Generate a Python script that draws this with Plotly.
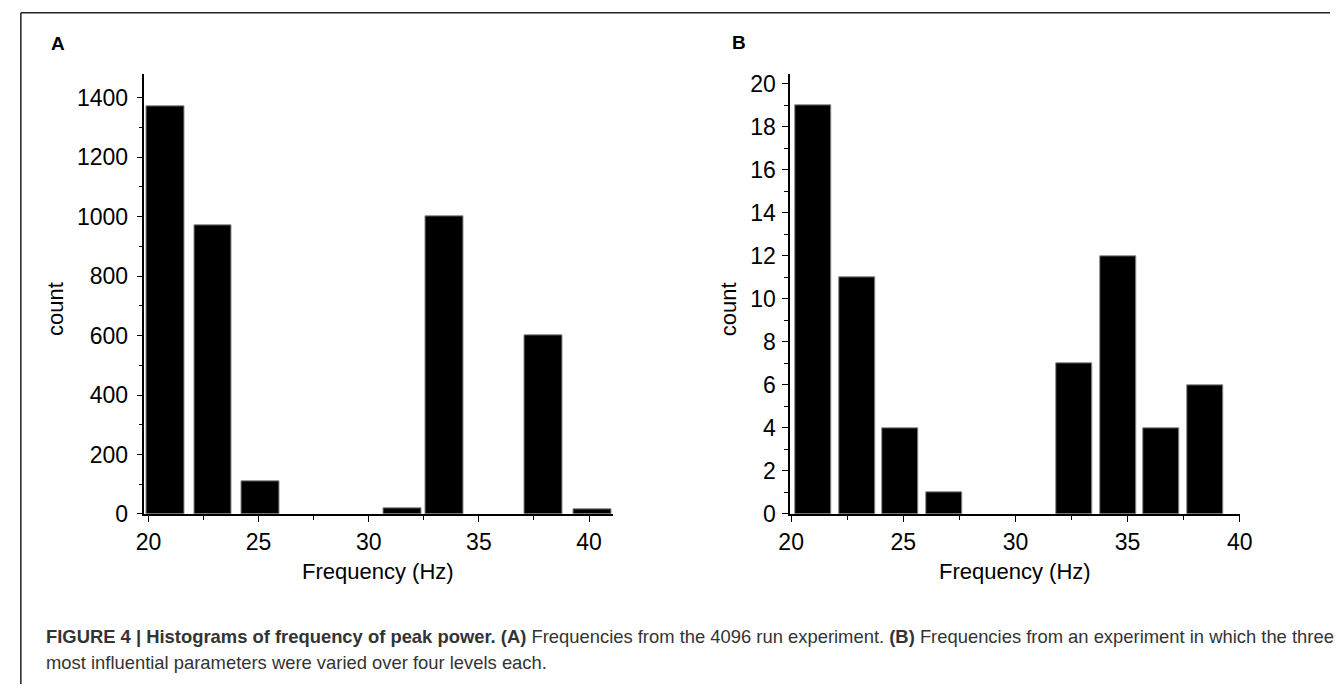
import plotly.graph_objects as go

W, H = 1343, 697

# Panel A: 4096-run experiment (bin centres in Hz, counts)
freq_a = [20.78, 22.93, 25.08, 31.55, 33.45, 37.95, 40.15]
count_a = [1370, 970, 110, 19, 1003, 600, 15]

# Panel B: four-level experiment on three parameters
freq_b = [21.0, 22.94, 24.88, 26.82, 32.64, 34.58, 36.52, 38.46]
count_b = [19, 11, 4, 1, 7, 12, 4, 6]

panel_labels = ["A", "B"]
x_title = "Frequency (Hz)"
y_title = "count"
caption_1 = ("<b>FIGURE 4 | Histograms of frequency of peak power. (A)</b> Frequencies from the 4096 run "
             "experiment. <b>(B)</b> Frequencies from an experiment in which the three")
caption_2 = "most influential parameters were varied over four levels each."


def px(x):
    return x / W


def py(y):
    return 1 - y / H


FONT = "Liberation Sans, Arial, sans-serif"
bar_style = dict(color="black", line=dict(color="#8a8a8a", width=1))

fig = go.Figure()
fig.add_trace(go.Bar(x=freq_a, y=count_a, width=1.72, marker=bar_style,
                     xaxis="x", yaxis="y", showlegend=False))
fig.add_trace(go.Bar(x=freq_b, y=count_b, width=1.6, marker=bar_style,
                     xaxis="x2", yaxis="y2", showlegend=False))

axis_common = dict(
    showline=True, linecolor="black", linewidth=1.6, mirror=False,
    showgrid=False, zeroline=False,
    ticks="outside", ticklen=6, tickwidth=1.4, tickcolor="black",
    tickfont=dict(family=FONT, size=23, color="black"),
)
minor_common = dict(ticks="outside", ticklen=4, tickwidth=1.2, tickcolor="black", showgrid=False)

y_dom = [py(523), py(73)]

fig.update_layout(
    width=W, height=H,
    margin=dict(l=0, r=0, t=0, b=0),
    paper_bgcolor="white", plot_bgcolor="white",
    bargap=0,
    xaxis=dict(domain=[px(135), px(612)], range=[19.82, 41.07], anchor="y",
               tickmode="linear", tick0=20, dtick=5, ticklabelstandoff=1,
               minor=dict(dtick=2.5, **minor_common), **axis_common),
    yaxis=dict(domain=y_dom, range=[0, 1479], anchor="x",
               tickmode="linear", tick0=0, dtick=200, ticklabelstandoff=4,
               minor=dict(dtick=100, **minor_common), **axis_common),
    xaxis2=dict(domain=[px(793), px(1251)], range=[19.96, 40.0], anchor="y2",
                tickmode="linear", tick0=20, dtick=5, ticklabelstandoff=1,
                minor=dict(dtick=2.5, **minor_common), **axis_common),
    yaxis2=dict(domain=y_dom, range=[0, 20.45], anchor="x2",
                tickmode="linear", tick0=0, dtick=2, ticklabelstandoff=2,
                minor=dict(dtick=1, **minor_common), **axis_common),
)

annotations = []
# panel letters
for lbl, (x, y) in zip(panel_labels, [(47, 41), (741, 40)]):
    annotations.append(dict(text=f"<b>{lbl}</b>", x=px(x), y=py(y), xref="paper", yref="paper",
                            showarrow=False, xanchor="center", yanchor="middle",
                            font=dict(family=FONT, size=19, color="black")))
# axis titles
for x in (373, 1022):
    annotations.append(dict(text=x_title, x=px(x), y=py(582), xref="paper", yref="paper",
                            showarrow=False, xanchor="center", yanchor="middle",
                            font=dict(family=FONT, size=22, color="black")))
for x in (45, 730):
    annotations.append(dict(text=y_title, x=px(x), y=py(313), xref="paper", yref="paper",
                            showarrow=False, xanchor="center", yanchor="middle", textangle=-90,
                            font=dict(family=FONT, size=22, color="black")))
# caption
for text, y in ((caption_1, 648), (caption_2, 675)):
    annotations.append(dict(text=text, x=px(33), y=py(y), xref="paper", yref="paper",
                            showarrow=False, xanchor="left", yanchor="middle", align="left",
                            font=dict(family=FONT, size=18.4, color="#333333")))
fig.update_layout(annotations=annotations)

# figure frame: top and left rules
frame = dict(type="line", xref="paper", yref="paper", line=dict(color="#222222", width=1.5))
fig.update_layout(shapes=[
    dict(x0=px(9), x1=1, y0=py(10), y1=py(10), **frame),
    dict(x0=px(9), x1=px(9), y0=py(10), y1=0, **frame),
])

fig.write_html("out.html")
